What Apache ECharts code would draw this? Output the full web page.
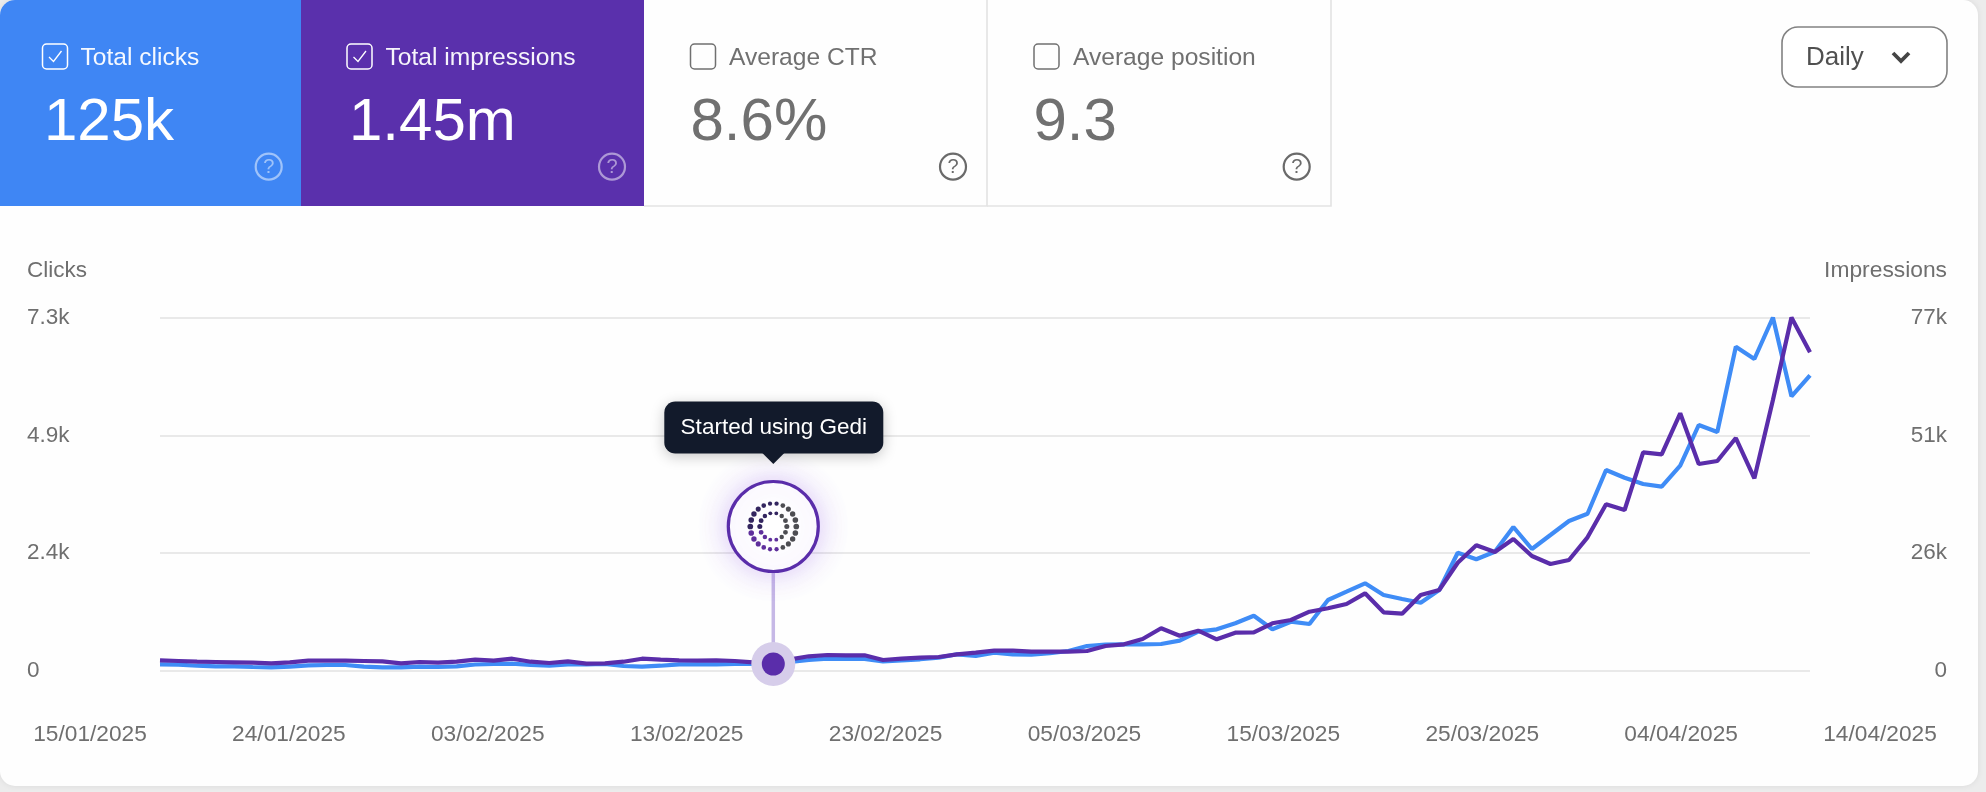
<!DOCTYPE html>
<html>
<head>
<meta charset="utf-8">
<style>
  html, body { margin: 0; padding: 0; background: #ececec; }
  #chart { width: 1986px; height: 792px; }
</style>
<script src="https://cdn.jsdelivr.net/npm/echarts@6/dist/echarts.min.js"></script>
</head>
<body>
<div id="chart"></div>
<script>
// Daily search performance, 15 Jan to 14 Apr 2025
const days = [
  '15/01','16/01','17/01','18/01','19/01','20/01','21/01','22/01','23/01','24/01','25/01','26/01','27/01','28/01','29/01','30/01','31/01',
  '01/02','02/02','03/02','04/02','05/02','06/02','07/02','08/02','09/02','10/02','11/02','12/02','13/02','14/02','15/02','16/02','17/02','18/02','19/02','20/02','21/02','22/02','23/02','24/02','25/02','26/02','27/02','28/02',
  '01/03','02/03','03/03','04/03','05/03','06/03','07/03','08/03','09/03','10/03','11/03','12/03','13/03','14/03','15/03','16/03','17/03','18/03','19/03','20/03','21/03','22/03','23/03','24/03','25/03','26/03','27/03','28/03','29/03','30/03','31/03',
  '01/04','02/04','03/04','04/04','05/04','06/04','07/04','08/04','09/04','10/04','11/04','12/04','13/04','14/04'
];
const clicks = [
  138,132,109,97,97,83,76,89,118,124,124,89,76,76,89,83,97,134,145,151,124,109,138,138,145,103,89,109,138,138,
  138,145,145,134,186,227,254,248,248,200,217,242,275,345,310,378,345,337,366,413,516,543,551,551,558,626,812,861,985,1142,
  861,1018,971,1466,1638,1811,1569,1487,1410,1673,2443,2307,2463,2974,2519,2808,3098,3248,4151,3992,3862,3806,4239,5080,4935,6697,6443,7300,5673,6106
];
const impressions = [
  2330,2178,2026,1960,1895,1808,1677,1895,2243,2243,2243,2178,2113,1677,1960,1808,2026,2461,2243,2679,2026,1742,2113,1590,1677,2026,2679,2461,2330,2243,
  2330,2178,1895,1525,2548,3202,3485,3419,3419,2396,2679,2897,3049,3637,3986,4421,4421,4204,4204,4204,4356,5445,5815,6970,9300,7688,8777,6904,8342,8429,
  10389,11108,12916,13656,14593,16923,12785,12480,16553,17642,23588,27377,25918,28750,25047,23305,24176,29120,36307,35066,47632,47196,56127,45085,45738,50747,41970,59024,77000,69413
];
const dateTicks = ['15/01/2025','24/01/2025','03/02/2025','13/02/2025','23/02/2025','05/03/2025','15/03/2025','25/03/2025','04/04/2025','14/04/2025'];
const clickTicks = ['0','2.4k','4.9k','7.3k'];
const impressionTicks = ['0','26k','51k','77k'];
const clicksMax = 7300;
const impressionsMax = 77000;
const annotationIndex = 33;
const annotationText = 'Started using Gedi';

const cards = [
  { label: 'Total clicks', value: '125k', left: 0, width: 301, box: 42.5, labelX: 80.5, valueX: 44, helpX: 268.7, fill: '#3f86f4', ink: '#ffffff', checked: true },
  { label: 'Total impressions', value: '1.45m', left: 301, width: 343, box: 347, labelX: 385.5, valueX: 349, helpX: 612, fill: '#5a30ac', ink: '#ffffff', checked: true },
  { label: 'Average CTR', value: '8.6%', left: 644, width: 343, box: 690.5, labelX: 729, valueX: 690.5, helpX: 953, fill: null, ink: '#707070', checked: false },
  { label: 'Average position', value: '9.3', left: 987, width: 344, box: 1034, labelX: 1073, valueX: 1033.5, helpX: 1296.7, fill: null, ink: '#707070', checked: false }
];

const FONT = '"Liberation Sans", Arial, sans-serif';
const GREY = '#6f6f6f';
const BLUE = '#3f8cf6';
const PURPLE = '#5a2daa';

function cardElements() {
  const out = [];
  // white sheet behind everything
  out.push({ type: 'rect', z: -20, silent: true,
    shape: { x: 0, y: 0, width: 1978, height: 786, r: 15 },
    style: { fill: '#fefefe', shadowBlur: 6, shadowColor: 'rgba(0,0,0,0.08)' } });
  cards.forEach(function (c, idx) {
    if (c.fill) {
      out.push({ type: 'rect', z: -10, silent: true,
        shape: { x: c.left, y: 0, width: c.width, height: 206, r: idx === 0 ? [15, 0, 0, 0] : 0 },
        style: { fill: c.fill } });
    } else {
      out.push({ type: 'polyline', z: -10, silent: true,
        shape: { points: [[c.left, 206], [c.left + c.width, 206], [c.left + c.width, 0]] },
        style: { stroke: '#e3e3e3', lineWidth: 1.6, fill: null } });
    }
    out.push({ type: 'rect', z: -5, silent: true,
      shape: { x: c.box, y: 44, width: 25, height: 25, r: 4 },
      style: { fill: null, stroke: c.ink, lineWidth: 1.5 } });
    if (c.checked) {
      out.push({ type: 'polyline', z: -5, silent: true,
        shape: { points: [[c.box + 6.5, 57], [c.box + 11, 61.5], [c.box + 19, 51]] },
        style: { fill: null, stroke: c.ink, lineWidth: 1.3 } });
    }
    out.push({ type: 'text', z: -5, silent: true,
      style: { x: c.labelX, y: 58, text: c.label, fill: c.ink, font: '24.6px ' + FONT, textVerticalAlign: 'middle', opacity: c.fill ? 0.95 : 1 } });
    out.push({ type: 'text', z: -5, silent: true,
      style: { x: c.valueX, y: 123.5, text: c.value, fill: c.ink, font: '60px ' + FONT, textVerticalAlign: 'middle' } });
    const helpColor = c.fill ? 'rgba(255,255,255,0.5)' : '#6a6a6a';
    out.push({ type: 'circle', z: -5, silent: true,
      shape: { cx: c.helpX, cy: 166.7, r: 13 },
      style: { fill: null, stroke: helpColor, lineWidth: 2.2 } });
    out.push({ type: 'text', z: -5, silent: true,
      style: { x: c.helpX, y: 167, text: '?', fill: helpColor, font: '20px ' + FONT, textAlign: 'center', textVerticalAlign: 'middle' } });
  });
  // period selector
  out.push({ type: 'rect', z: -5, silent: true,
    shape: { x: 1782, y: 27, width: 165, height: 60, r: 16 },
    style: { fill: '#ffffff', stroke: '#828282', lineWidth: 1.6 } });
  out.push({ type: 'text', z: -5, silent: true,
    style: { x: 1806, y: 58, text: 'Daily', fill: '#505050', font: '26px ' + FONT, textVerticalAlign: 'middle' } });
  out.push({ type: 'polyline', z: -5, silent: true,
    shape: { points: [[1893, 53], [1901, 61], [1909, 53]] },
    style: { fill: null, stroke: '#454545', lineWidth: 3.8 } });
  // axis captions
  out.push({ type: 'text', z: -5, silent: true,
    style: { x: 27, y: 271, text: 'Clicks', fill: GREY, font: '22.5px ' + FONT, textVerticalAlign: 'middle' } });
  out.push({ type: 'text', z: -5, silent: true,
    style: { x: 1947, y: 271, text: 'Impressions', fill: GREY, font: '22.8px ' + FONT, textAlign: 'right', textVerticalAlign: 'middle' } });
  return out;
}

// Annotation pin: halo and dot on the data point, stem, logo badge and caption above
function renderAnnotation(params, api) {
  const p = api.coord([api.value(0), api.value(1)]);
  const cx = p[0] + 1.5, cy = p[1];
  const badgeY = cy - 137.5;
  const children = [
    { type: 'line', shape: { x1: cx, y1: cy, x2: cx, y2: badgeY + 46 }, style: { stroke: '#c6b8e6', lineWidth: 3.5 } },
    { type: 'circle', shape: { cx: cx, cy: cy, r: 22 }, style: { fill: '#d6cdea' } },
    { type: 'circle', shape: { cx: cx, cy: cy, r: 11.5 }, style: { fill: '#5a2daa' } },
    { type: 'circle', shape: { cx: cx, cy: badgeY, r: 45 },
      style: { fill: '#ffffff', stroke: '#5a2daa', lineWidth: 3.2, shadowBlur: 30, shadowColor: 'rgba(130,70,230,0.3)' } }
  ];
  const rings = [{ r: 23, n: 22, size: 2.7 }, { r: 13.5, n: 14, size: 2.4 }];
  rings.forEach(function (ring) {
    for (let k = 0; k < ring.n; k++) {
      const a = (k / ring.n) * Math.PI * 2;
      const dx = Math.cos(a), dy = Math.sin(a);
      const color = dx > 0.25 ? '#4d4d52' : (dy > 0.15 ? '#5f2f9c' : '#33255f');
      children.push({ type: 'circle',
        shape: { cx: cx + dx * ring.r, cy: badgeY + dy * ring.r, r: ring.size * (0.75 + 0.3 * Math.abs(dx)) },
        style: { fill: color } });
    }
  });
  const tipY = badgeY - 62.5;
  children.push({ type: 'rect',
    shape: { x: cx - 109, y: tipY - 62.5, width: 219, height: 52, r: 11 },
    style: { fill: '#121a2b', shadowBlur: 14, shadowColor: 'rgba(0,0,0,0.22)', shadowOffsetY: 3 } });
  children.push({ type: 'polygon',
    shape: { points: [[cx - 11, tipY - 11], [cx + 11, tipY - 11], [cx, tipY]] },
    style: { fill: '#121a2b' } });
  children.push({ type: 'text',
    style: { x: cx + 0.5, y: tipY - 36.5, text: annotationText, fill: '#ffffff', font: '22.5px ' + FONT, textAlign: 'center', textVerticalAlign: 'middle' } });
  return { type: 'group', children: children };
}

const chart = echarts.init(document.getElementById('chart'));
chart.setOption({
  animation: false,
  backgroundColor: '#ececec',
  graphic: { elements: cardElements() },
  grid: [
    { left: 160, top: 317.5, width: 1650, height: 353.5 },
    { left: 90, top: 317.5, width: 1790, height: 353.5 }
  ],
  xAxis: [
    { type: 'category', gridIndex: 0, data: days, boundaryGap: false,
      axisLine: { show: false }, axisTick: { show: false }, axisLabel: { show: false }, splitLine: { show: false } },
    { type: 'category', gridIndex: 1, data: dateTicks, boundaryGap: false,
      axisLine: { show: false }, axisTick: { show: false }, splitLine: { show: false },
      axisLabel: { show: true, interval: 0, margin: 52, color: GREY, fontFamily: FONT, fontSize: 22.7, hideOverlap: false } }
  ],
  yAxis: [
    { type: 'value', gridIndex: 0, min: 0, max: clicksMax, interval: clicksMax / 3,
      axisLine: { show: false }, axisTick: { show: false },
      splitLine: { show: true, lineStyle: { color: '#e2e2e2', width: 1.5 } },
      axisLabel: { margin: 133, align: 'left', color: GREY, fontFamily: FONT, fontSize: 22.5, padding: [5, 0, 0, 0],
        formatter: function (v, i) { return clickTicks[i]; } } },
    { type: 'value', gridIndex: 0, position: 'right', min: 0, max: impressionsMax, interval: impressionsMax / 3,
      axisLine: { show: false }, axisTick: { show: false }, splitLine: { show: false },
      axisLabel: { margin: 137, align: 'right', color: GREY, fontFamily: FONT, fontSize: 22.5, padding: [5, 0, 0, 0],
        formatter: function (v, i) { return impressionTicks[i]; } } },
    { type: 'value', gridIndex: 1, show: false, min: 0, max: 1 }
  ],
  series: [
    { name: 'Clicks', type: 'line', xAxisIndex: 0, yAxisIndex: 0, data: clicks, showSymbol: false, smooth: false,
      lineStyle: { color: BLUE, width: 4.2 }, itemStyle: { color: BLUE }, z: 3 },
    { name: 'Impressions', type: 'line', xAxisIndex: 0, yAxisIndex: 1, data: impressions, showSymbol: false, smooth: false,
      lineStyle: { color: PURPLE, width: 4.2 }, itemStyle: { color: PURPLE }, z: 4 },
    { name: 'Annotation', type: 'custom', xAxisIndex: 0, yAxisIndex: 1, z: 6, clip: false, silent: true,
      data: [[annotationIndex, impressions[annotationIndex]]], renderItem: renderAnnotation }
  ]
});
</script>
</body>
</html>
